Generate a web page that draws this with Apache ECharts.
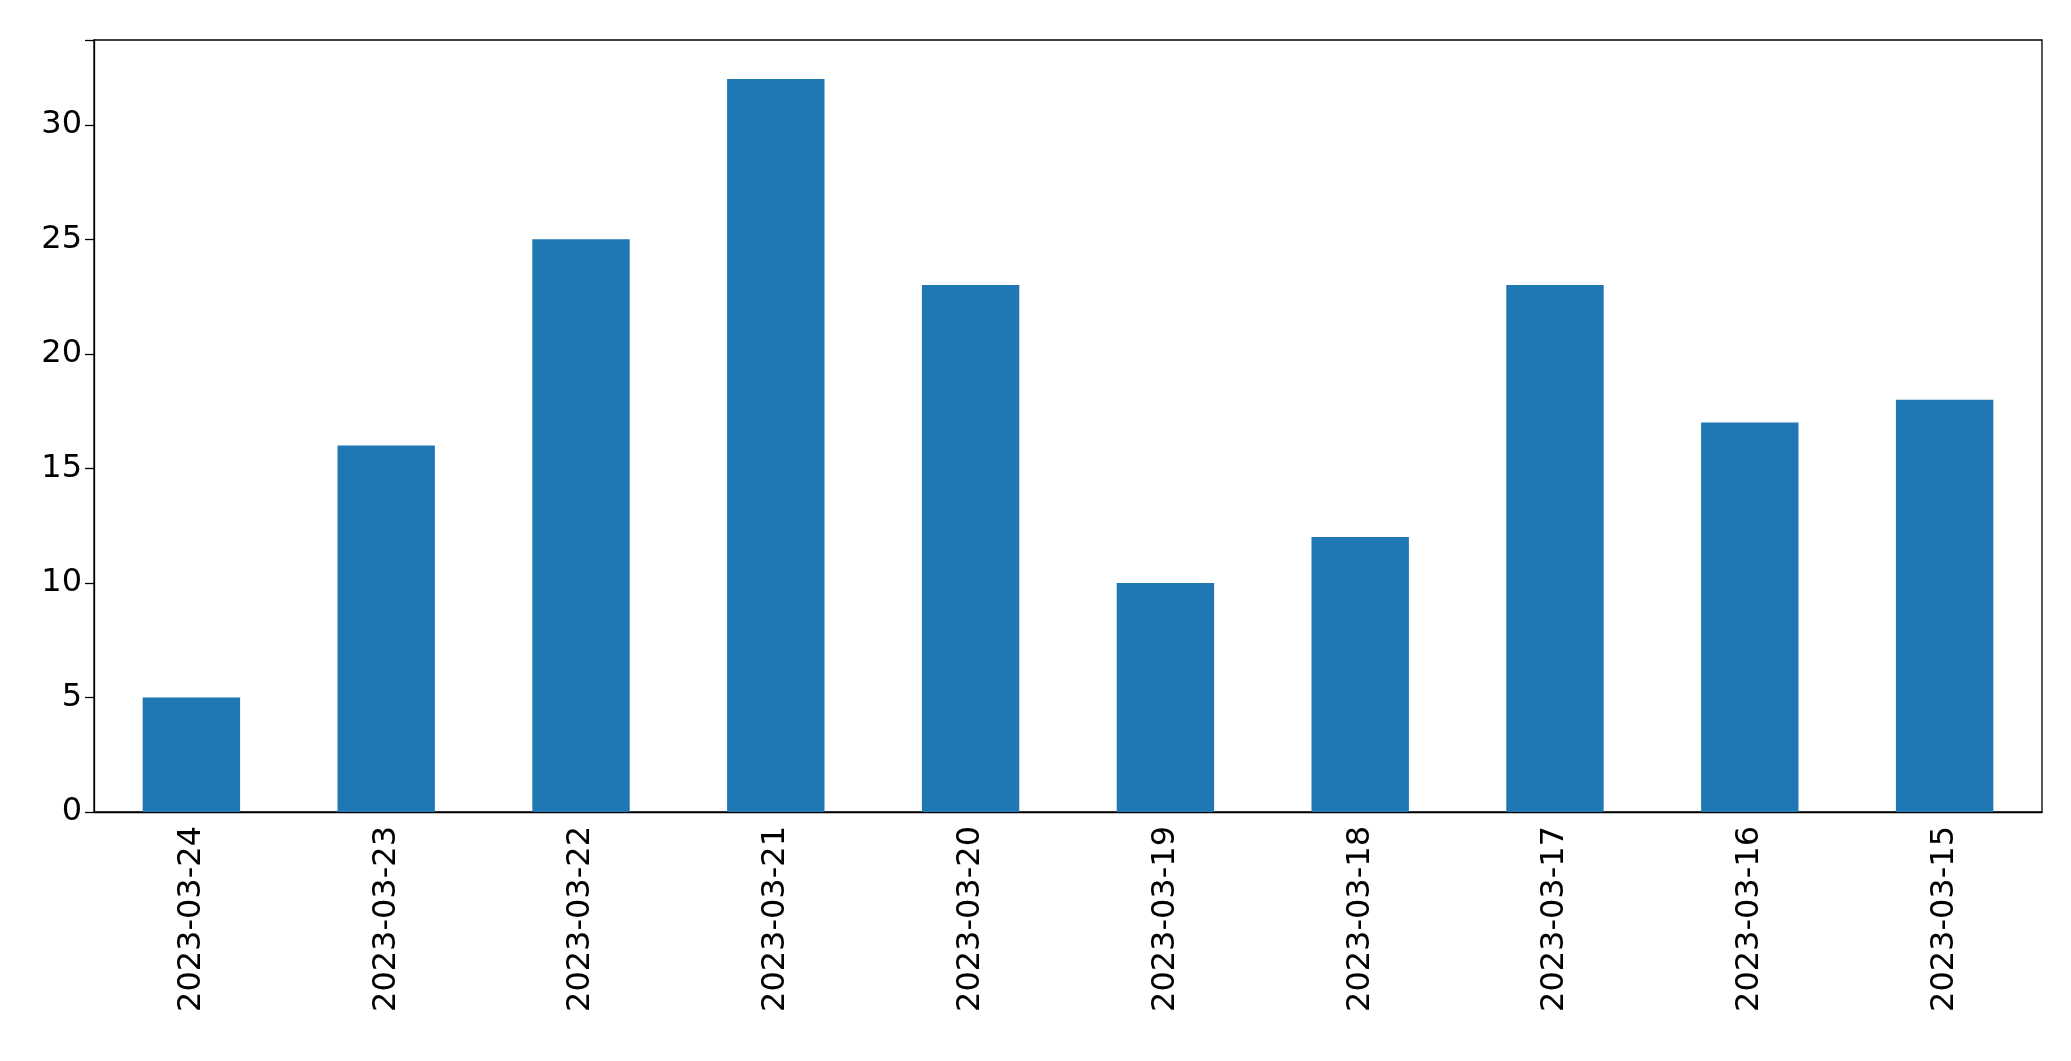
<!DOCTYPE html>
<html>
<head>
<meta charset="utf-8">
<script src="https://cdn.jsdelivr.net/npm/echarts@6/dist/echarts.min.js"></script>
<style>html,body{margin:0;padding:0;background:#fff}#chart{width:2071px;height:1061px}</style>
</head>
<body>
<div id="chart"></div>
<script>
var dates = ['2023-03-24', '2023-03-23', '2023-03-22', '2023-03-21', '2023-03-20',
    '2023-03-19', '2023-03-18', '2023-03-17', '2023-03-16', '2023-03-15'];
var counts = [5, 16, 25, 32, 23, 10, 12, 23, 17, 18];
var yTicks = [0, 5, 10, 15, 20, 25, 30];

var chart = echarts.init(document.getElementById('chart'));

var option = {
    animation: false,
    grid: {
        left: 94,
        right: 29,
        top: 40,
        bottom: 249
    },
    xAxis: {
        type: 'category',
        data: dates,
        axisLine: { lineStyle: { color: '#000', width: 1.3 } },
        axisTick: { alignWithLabel: true, length: 9, lineStyle: { color: '#000', width: 1.3 } },
        axisLabel: {
            rotate: 90,
            color: '#000',
            fontSize: 32,
            fontFamily: 'DejaVu Sans',
            margin: 14
        }
    },
    yAxis: {
        type: 'value',
        min: 0,
        max: 33.7,
        interval: 5,
        splitLine: { show: false },
        axisLine: { show: true, lineStyle: { color: '#000', width: 1.3 } },
        axisTick: { show: true, length: 9, lineStyle: { color: '#000', width: 1.3 } },
        axisLabel: {
            color: '#000',
            fontSize: 32,
            fontFamily: 'DejaVu Sans',
            margin: 12,
            formatter: function (v) { return yTicks.indexOf(v) >= 0 ? String(v) : ''; }
        }
    },
    series: [{
        type: 'bar',
        data: counts,
        barWidth: '50%',
        itemStyle: { color: '#1f77b4' }
    }],
    graphic: [{
        type: 'rect',
        shape: { x: 94, y: 40, width: 2071 - 94 - 29, height: 1061 - 40 - 249 },
        style: { fill: 'none', stroke: '#000', lineWidth: 1.3 },
        silent: true
    }]
};

chart.setOption(option);
</script>
</body>
</html>
